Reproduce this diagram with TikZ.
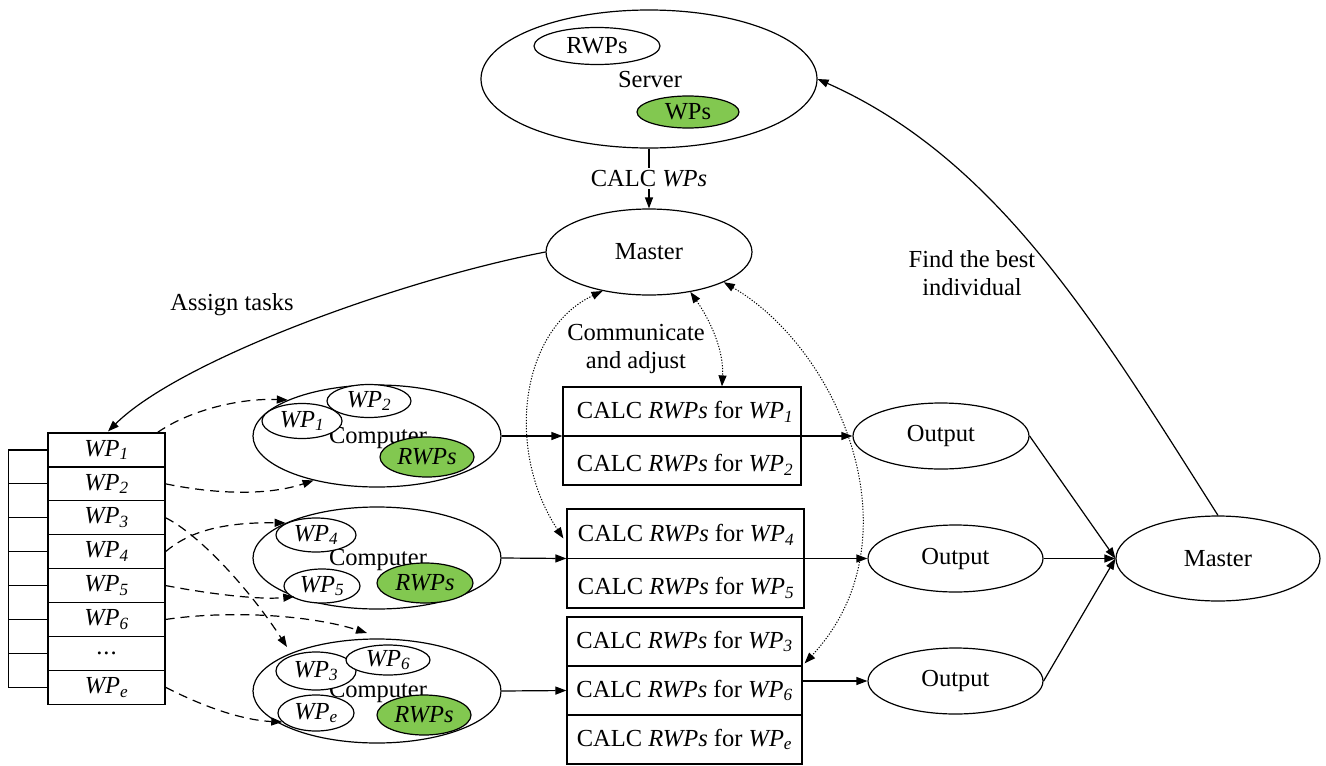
\documentclass[tikz,border=0pt]{standalone}
\usepackage{fontspec}
\setmainfont{Liberation Serif}
\usetikzlibrary{shapes.geometric,arrows.meta,calc}
\definecolor{leaf}{RGB}{130,200,80}
\newcommand{\wpn}[1]{\textit{WP}\textsubscript{\textit{#1}}}
\newcommand{\rwpi}{\textit{RWPs}}
\newcommand{\threedots}{.\kern1pt.\kern1pt.}
\begin{document}
\begin{tikzpicture}[x=1pt,y=-1pt,
  font=\fontsize{24.5}{28}\selectfont,
  line width=1.2pt,
  ell/.style={ellipse,draw,inner sep=0pt},
  tag/.style={ell,fill=white},
  hot/.style={ell,fill=leaf},
  cell/.style={draw,minimum width=117pt,minimum height=33.9pt,inner sep=0pt},
  job/.style={draw,inner sep=0pt},
  word/.style={inner sep=1pt},
  arr/.style={-{Triangle[length=11pt,width=8pt]}},
  dasharr/.style={arr,dash pattern=on 9pt off 6pt},
  dotarr/.style={{Triangle[length=11pt,width=8pt]}-{Triangle[length=11pt,width=8pt]},
                 line width=1pt,dash pattern=on 1.2pt off 1.6pt}
]
\useasboundingbox (0,0) rectangle (1326,766);

% ---- server ----
\node[ell,minimum width=336pt,minimum height=138pt] (server) at (649,79) {};
\node[word] (servertxt) at (650,80) {Server};
\node[tag,minimum width=126pt,minimum height=37pt] (srwp) at (597,46) {RWPs};
\node[hot,minimum width=102pt,minimum height=32pt] (swp) at (688,112) {WPs};

% ---- masters ----
\node[ell,minimum width=206pt,minimum height=86pt] (m1) at (649,252) {Master};
\node[ell,minimum width=204pt,minimum height=85pt] (m2) at (1218,558.5) {Master};

\draw[arr] (server.south) -- node[fill=white,inner sep=2pt] (calcwp) {CALC \textit{WPs}} (m1.north);

% ---- task list ----
\foreach \i/\t [evaluate=\i as \yy using 433+33.9*(\i-0.5)] in
  {1/\wpn{1},2/\wpn{2},3/\wpn{3},4/\wpn{4},5/\wpn{5},6/\wpn{6},7/\threedots,8/\wpn{e}}
  \node[cell] (l\i) at (106.5,\yy) {\t};
\draw (l1.west) -- ++(-39,0) |- (l8.west);
\foreach \i in {2,3,4,5,6,7} \draw (l\i.west) -- ++(-39,0);

% ---- computers ----
\node[ell,minimum width=248pt,minimum height=102pt] (c1) at (377,436) {};
\node[word] (c1txt) at (378,438) {Computer};
\node[tag,minimum width=80pt,minimum height=35pt] (w1) at (302,421) {\wpn{1}};
\node[tag,minimum width=84pt,minimum height=33pt] (w2) at (369,401) {\wpn{2}};
\node[hot,minimum width=94pt,minimum height=40pt] (r1) at (427,457) {\rwpi};

\node[ell,minimum width=248pt,minimum height=102pt] (c2) at (377,558) {};
\node[word] (c2txt) at (378,560) {Computer};
\node[tag,minimum width=80pt,minimum height=34pt] (w4) at (316,535) {\wpn{4}};
\node[tag,minimum width=76pt,minimum height=34pt] (w5) at (322,586) {\wpn{5}};
\node[hot,minimum width=96pt,minimum height=40pt] (r2) at (425,583) {\rwpi};

\node[ell,minimum width=248pt,minimum height=104pt] (c3) at (377,691) {};
\node[word] (c3txt) at (378,692) {Computer};
\node[tag,minimum width=80pt,minimum height=38pt] (w3) at (316,671) {\wpn{3}};
\node[tag,minimum width=84pt,minimum height=30pt] (w6) at (388,660) {\wpn{6}};
\node[tag,minimum width=76pt,minimum height=36pt] (we) at (316,713) {\wpn{e}};
\node[hot,minimum width=94pt,minimum height=40pt] (r3) at (424,715) {\rwpi};

% ---- calculation boxes ----
\node[job,minimum width=238pt,minimum height=98pt] (b1) at (682,436) {};
\node[word] (b1a) at (685,412) {CALC \rwpi\ for \wpn{1}};
\node[word] (b1b) at (685,465) {CALC \rwpi\ for \wpn{2}};

\node[job,minimum width=237pt,minimum height=99pt] (b2) at (685.5,558.5) {};
\node[word] (b2a) at (686,535) {CALC \rwpi\ for \wpn{4}};
\node[word] (b2b) at (686,588) {CALC \rwpi\ for \wpn{5}};

\node[job,minimum width=235pt,minimum height=49pt] (b3a) at (684.5,641.5) {CALC \rwpi\ for \wpn{3}};
\node[job,minimum width=235pt,minimum height=49pt] (b3b) at (684.5,690.5) {CALC \rwpi\ for \wpn{6}};
\node[job,minimum width=235pt,minimum height=49pt] (b3c) at (684.5,739.5) {CALC \rwpi\ for \wpn{e}};

% ---- outputs ----
\node[ell,minimum width=176pt,minimum height=66pt] (o1) at (941,436) {Output};
\node[ell,minimum width=175pt,minimum height=67pt] (o2) at (955.5,558.5) {Output};
\node[ell,minimum width=175pt,minimum height=66pt] (o3) at (955.5,681) {Output};

% ---- solid flow ----
\draw[arr] (c1.east) -- (b1.west);
\draw[arr] (b1.west) -- (o1.west);
\draw[arr] (c2.east) -- (b2.west);
\draw[arr] (b2.west) -- (o2.west);
\draw[arr] (c3.east) -- (b3b.west);
\draw[arr] (b3b.east |- o3.west) -- (o3.west);
\draw[arr] (o1.east) -- (m2.west);
\draw[arr] (o2.east) -- (m2.west);
\draw[arr] (o3.east) -- (m2.west);

\draw[arr] (m1.west) .. controls (400,280) and (180,360) .. ($(l1.north)+(1.5,-1)$);
\node[word] (assign) at (232,305) {Assign tasks};

\draw[arr] (m2.north) .. controls (1100,330) and (1000,160) .. (server.east);
\node[word,align=center] (best) at (972,273) {Find the best\\individual};

% ---- communication with the master ----
\draw[dotarr] (m1.-140) .. controls (520,330) and (505,450) .. ($(b2.west)!0.4!(b2.north west)+(-3,0)$);
\draw[dotarr] (m1.-44) .. controls (710,320) and (724,350) .. ($(b1.north west)!0.667!(b1.north east)$);
\draw[dotarr] (m1.-22) .. controls (840,350) and (920,540) .. ($(b3b.north east)+(2,-2)$);
\node[word,align=center] (talk) at (636,349) {Communicate\\and adjust};

% ---- task distribution ----
\coordinate (t3) at (287,647);
\coordinate (t6) at (367,633);
\draw[dasharr] ($(l1.north east)+(-8,0)$) .. controls (190,410) and (240,398) .. (c1.158);
\draw[dasharr] (l2.east) .. controls (220,495) and (270,495) .. (c1.-145);
\draw[dasharr] (l4.east) .. controls (185,535) and (215,522) .. (c2.159);
\draw[dasharr] (l5.east) .. controls (210,594) and (260,600) .. (c2.-155);
\draw[dasharr] (l3.east) .. controls (200,535) and (250,590) .. (t3);
\draw[dasharr] (l6.east) .. controls (230,610) and (310,615) .. (t6);
\draw[dasharr] (l8.east) .. controls (200,705) and (240,720) .. (we.195);
\end{tikzpicture}
\end{document}
